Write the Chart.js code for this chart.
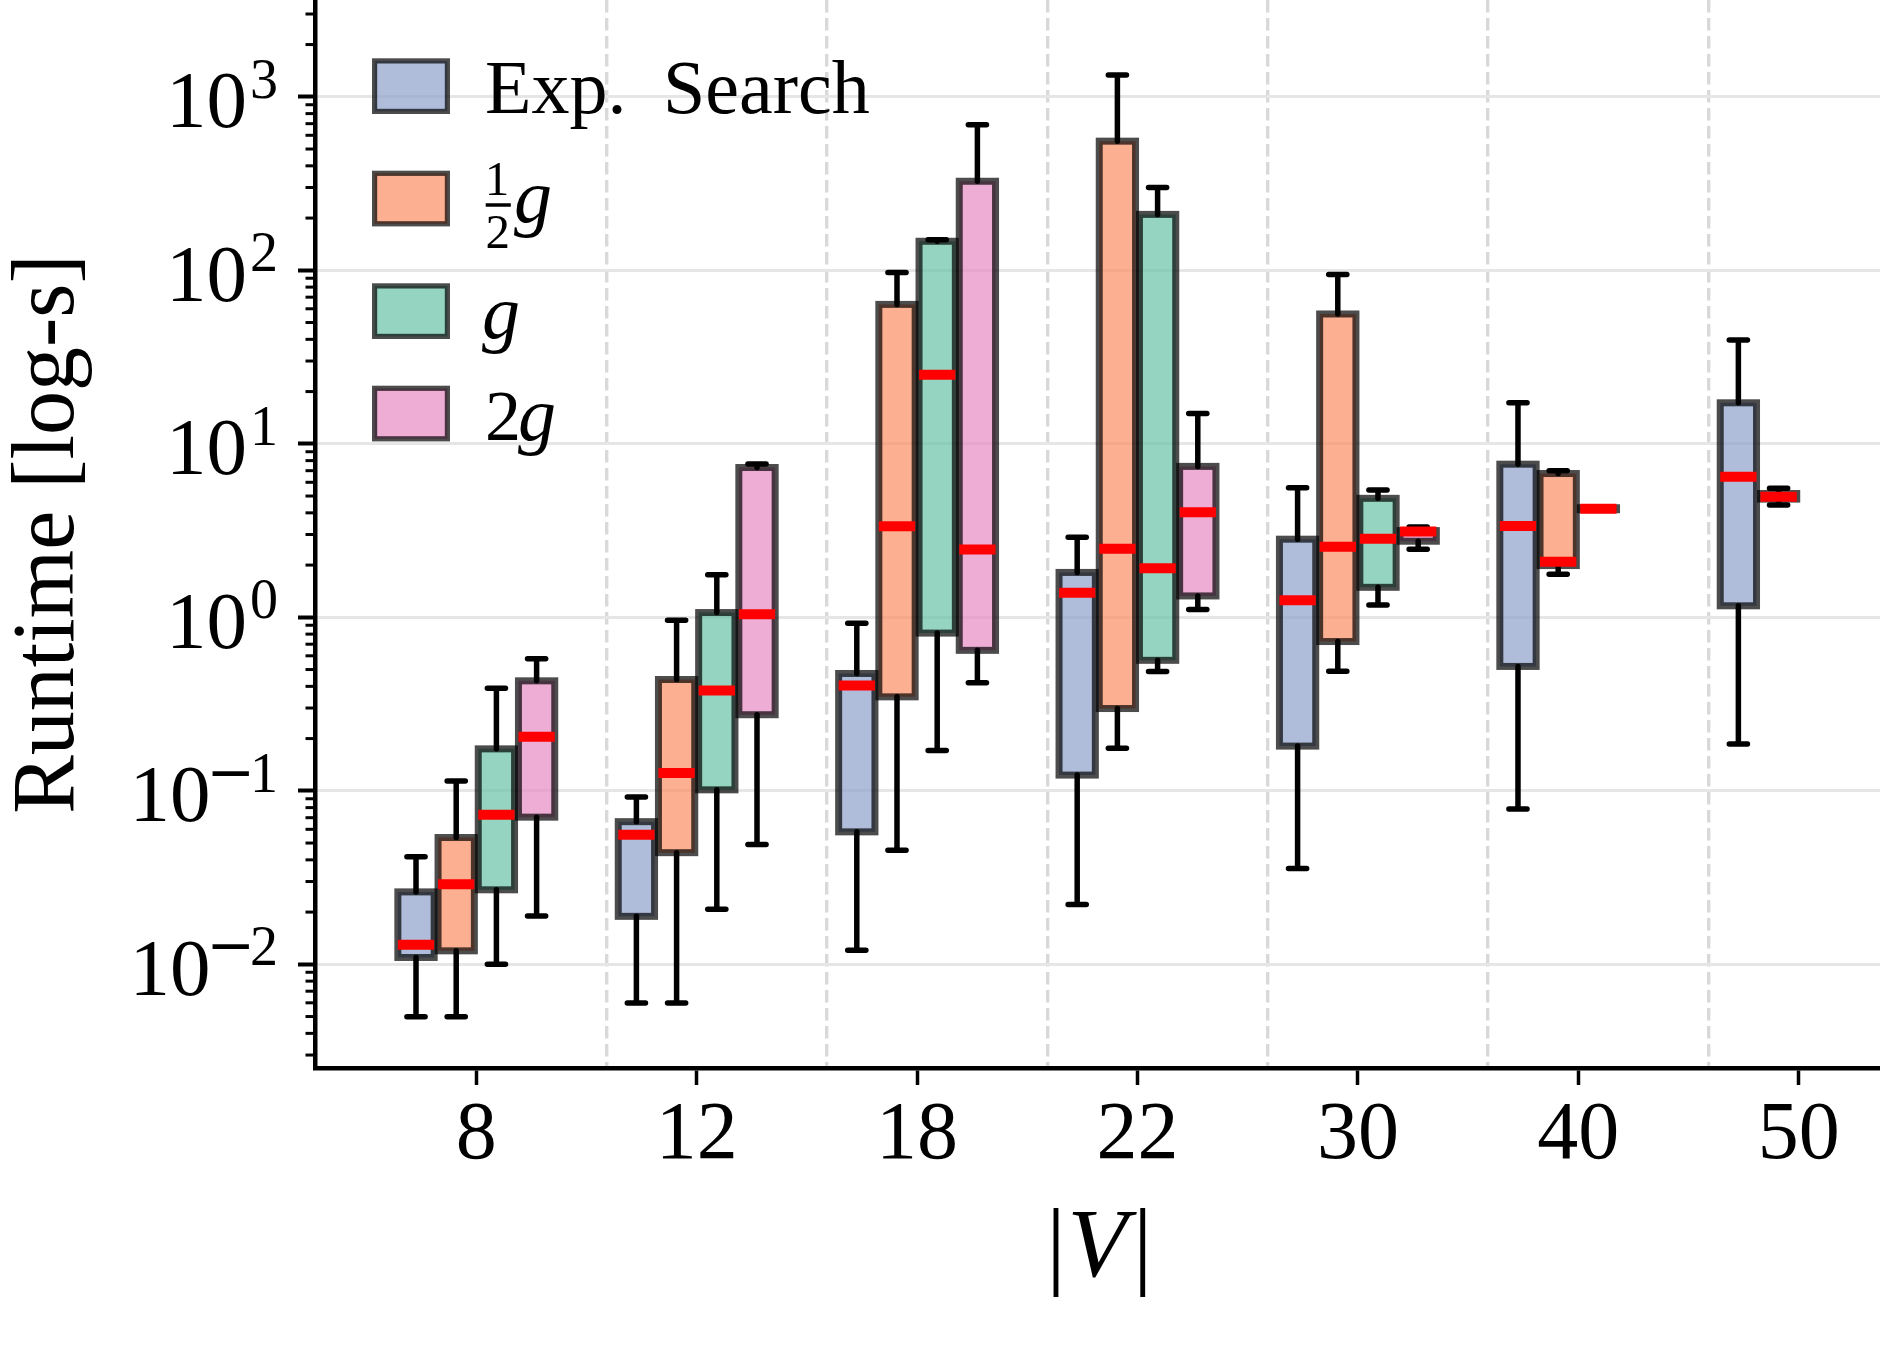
<!DOCTYPE html>
<html><head><meta charset="utf-8">
<script src="https://cdn.jsdelivr.net/npm/chart.js@4.4.1/dist/chart.umd.min.js"></script>
<style>html,body{margin:0;padding:0;background:#fff;}#wrap{width:1880px;height:1361px;}</style>
</head><body><div id="wrap"><canvas id="c" width="1880" height="1361" style="width:1880px;height:1361px"></canvas></div>
<script>
// ---------------- data ----------------
const sizes = ['8', '12', '18', '22', '30', '40', '50'];
const seriesNames = ['Exp. Search', '1/2 g', 'g', '2g'];
const yExponents = [-2, -1, 0, 1, 2, 3];

// Exp. Search
const expLow  = [0.00499, 0.00598, 0.01206, 0.0221, 0.0357, 0.0785, 0.186];
const expQ1   = [0.01095, 0.0189, 0.058, 0.1232, 0.181, 0.521, 1.165];
const expMed  = [0.01297, 0.0558, 0.4045, 1.386, 1.255, 3.36, 6.46];
const expQ3   = [0.02615, 0.0664, 0.4745, 1.814, 2.82, 7.63, 17.23];
const expHigh = [0.0417, 0.092, 0.923, 2.895, 5.59, 17.26, 39.6];
// 1/2 g
const halfLow  = [0.00499, 0.00598, 0.0454, 0.1762, 0.489, 1.77, 4.44];
const halfQ1   = [0.01196, 0.044, 0.348, 0.298, 0.725, 1.987, 4.80];
const halfMed  = [0.0289, 0.1266, 3.35, 2.48, 2.55, 2.09, 4.96];
const halfQ3   = [0.0538, 0.438, 63.6, 555, 56.0, 6.74, 5.17];
const halfHigh = [0.1139, 0.962, 97, 1334, 94.6, 7.0, 5.54];
// g
const gLow  = [0.0100, 0.0208, 0.171, 0.487, 1.176, 4.15, null];
const gQ1   = [0.02688, 0.1013, 0.811, 0.565, 1.489, 4.17, null];
const gMed  = [0.0728, 0.3786, 25.0, 1.916, 2.84, 4.22, null];
const gQ3   = [0.1745, 1.065, 147, 210, 4.85, 4.28, null];
const gHigh = [0.390, 1.76, 150, 300, 5.42, 4.32, null];
// 2g
const twoLow  = [0.01898, 0.0491, 0.42, 1.11, 2.47, null, null];
const twoQ1   = [0.0705, 0.2745, 0.645, 1.328, 2.745, null, null];
const twoMed  = [0.205, 1.041, 2.46, 4.03, 3.12, null, null];
const twoQ3   = [0.4304, 7.30, 326, 7.41, 3.16, null, null];
const twoHigh = [0.577, 7.65, 689, 14.95, 3.31, null, null];

// ---------------- styling ----------------
const FONT = '"Liberation Serif", "Times New Roman", serif';
const fills = ['rgba(141,160,203,0.7)', 'rgba(252,141,98,0.7)', 'rgba(102,194,165,0.7)', 'rgba(231,138,195,0.7)'];
const stats = [
  {lo: expLow, q1: expQ1, med: expMed, q3: expQ3, hi: expHigh},
  {lo: halfLow, q1: halfQ1, med: halfMed, q3: halfQ3, hi: halfHigh},
  {lo: gLow, q1: gQ1, med: gMed, q3: gQ3, hi: gHigh},
  {lo: twoLow, q1: twoQ1, med: twoMed, q3: twoQ3, hi: twoHigh}
];
const X_MIN = -0.7319, X_MAX = 6.369;
const Y_MIN = 0.002526, Y_MAX = 3613;
const SEP_OFFSET = 0.591;

const datasets = stats.map((s, d) => ({
  label: seriesNames[d],
  data: sizes.map((_, i) => s.q1[i] == null ? null : {x: i, y: [s.q1[i], s.q3[i]]}).filter(v => v !== null),
  backgroundColor: fills[d],
  borderWidth: 0,
  inflateAmount: 0,
  categoryPercentage: 0.7296,
  barPercentage: 0.903,
  grouped: true
}));

// box decorations: edges, whiskers, caps, medians
const boxPlugin = {
  id: 'boxDecor',
  afterDatasetsDraw(chart) {
    const ctx = chart.ctx, ys = chart.scales.y;
    const items = [];
    chart.data.datasets.forEach((ds, d) => {
      const meta = chart.getDatasetMeta(d);
      meta.data.forEach((el, j) => {
        const i = ds.data[j].x, s = stats[d];
        items.push({x: el.x, w: el.width,
          pQ1: ys.getPixelForValue(s.q1[i]), pQ3: ys.getPixelForValue(s.q3[i]),
          pLo: ys.getPixelForValue(s.lo[i]), pHi: ys.getPixelForValue(s.hi[i]),
          pMed: ys.getPixelForValue(s.med[i])});
      });
    });
    ctx.save();
    ctx.lineJoin = 'miter';
    ctx.lineWidth = 7;
    ctx.strokeStyle = 'rgba(0,0,0,0.7)';
    items.forEach(b => ctx.strokeRect(b.x - b.w / 2, b.pQ3, b.w, b.pQ1 - b.pQ3));
    ctx.strokeStyle = '#000';
    ctx.lineWidth = 5.5;
    ctx.lineCap = 'round';
    items.forEach(b => {
      const c = b.w / 4;
      ctx.beginPath();
      ctx.moveTo(b.x, b.pQ3); ctx.lineTo(b.x, b.pHi);
      ctx.moveTo(b.x, b.pQ1); ctx.lineTo(b.x, b.pLo);
      ctx.moveTo(b.x - c, b.pHi); ctx.lineTo(b.x + c, b.pHi);
      ctx.moveTo(b.x - c, b.pLo); ctx.lineTo(b.x + c, b.pLo);
      ctx.stroke();
    });
    ctx.strokeStyle = '#ff0000';
    ctx.lineWidth = 10;
    ctx.lineCap = 'butt';
    items.forEach(b => {
      ctx.beginPath();
      ctx.moveTo(b.x - b.w / 2, b.pMed); ctx.lineTo(b.x + b.w / 2, b.pMed);
      ctx.stroke();
    });
    ctx.restore();
  }
};

// y tick labels (10^k), minor ticks, legend
const decorPlugin = {
  id: 'decor',
  afterDraw(chart) {
    const ctx = chart.ctx, ys = chart.scales.y, left = chart.chartArea.left;
    ctx.save();
    ctx.fillStyle = '#000';
    ctx.textBaseline = 'alphabetic';
    ctx.textAlign = 'right';
    yExponents.forEach(e => {
      const py = ys.getPixelForValue(Math.pow(10, e));
      const xr = left - 37;
      ctx.font = '56px ' + FONT;
      const digit = String(Math.abs(e));
      ctx.fillText(digit, xr, py + 1);
      let start = xr - ctx.measureText(digit).width;
      if (e < 0) {
        ctx.font = '58px "DejaVu Sans"';
        const mEnd = start + 5;
        ctx.fillText('\u2212', mEnd, py + 1);
        start = mEnd - ctx.measureText('\u2212').width + 4;
      } else {
        start -= 3;
      }
      ctx.font = '81px ' + FONT;
      ctx.fillText('10', start, py + 30.5);
    });
    // minor ticks
    ctx.strokeStyle = '#000';
    ctx.lineWidth = 3;
    for (let k = -3; k <= 3; k++) {
      for (let m = 2; m <= 9; m++) {
        const v = m * Math.pow(10, k);
        if (v < ys.min || v > ys.max) continue;
        const py = ys.getPixelForValue(v);
        ctx.beginPath(); ctx.moveTo(left - 9.5, py); ctx.lineTo(left, py); ctx.stroke();
      }
    }
    // legend
    const tops = [58.3, 170.7, 283.3, 385.7];
    const px = 372, pw = 78, ph = 55.7, plw = 5.2;
    tops.forEach((t, d) => {
      ctx.fillStyle = fills[d];
      ctx.fillRect(px + plw / 2, t + plw / 2, pw - plw, ph - plw);
      ctx.strokeStyle = 'rgba(0,0,0,0.7)';
      ctx.lineWidth = plw;
      ctx.strokeRect(px + plw / 2, t + plw / 2, pw - plw, ph - plw);
    });
    ctx.fillStyle = '#000';
    ctx.textAlign = 'left';
    ctx.font = '76px ' + FONT;
    ctx.fillText('Exp.', 485, 112.7);
    ctx.fillText('Search', 663, 112.7);
    ctx.textAlign = 'center';
    ctx.font = '49px ' + FONT;
    ctx.fillText('1', 497, 195);
    ctx.fillText('2', 497.7, 248.3);
    ctx.strokeStyle = '#000'; ctx.lineWidth = 3.5;
    ctx.beginPath(); ctx.moveTo(485.7, 205); ctx.lineTo(510.8, 205); ctx.stroke();
    ctx.textAlign = 'left';
    ctx.font = 'italic 76px ' + FONT;
    ctx.fillText('g', 514, 222);
    ctx.fillText('g', 482, 338);
    ctx.font = '72px ' + FONT;
    ctx.fillText('2', 485, 440);
    ctx.font = 'italic 76px ' + FONT;
    ctx.fillText('g', 518, 440);
    ctx.restore();
  }
};

Chart.defaults.font.family = FONT;
Chart.defaults.color = '#000';

new Chart(document.getElementById('c'), {
  type: 'bar',
  data: {datasets},
  options: {
    responsive: false,
    devicePixelRatio: 1,
    animation: false,
    events: [],
    layout: {padding: 0},
    plugins: {legend: {display: false}, tooltip: {enabled: false}, title: {display: false}},
    scales: {
      x: {
        type: 'linear', position: 'bottom', min: X_MIN, max: X_MAX, offset: false,
        afterBuildTicks: s => { s.ticks = sizes.map((_, i) => ({value: i})); },
        afterFit: s => { s.height = 293; },
        grid: {display: true, drawOnChartArea: false, drawTicks: true, tickLength: 17, tickWidth: 3.5, tickColor: '#000', offset: false},
        border: {display: true, color: '#000', width: 4.5},
        ticks: {autoSkip: false, maxRotation: 0, minRotation: 0, padding: 2, color: '#000',
                font: {family: FONT, size: 82, lineHeight: 1.2},
                callback: v => (sizes[v] !== undefined ? sizes[v] : '')},
        title: {display: true, text: '|V|', color: '#000',
                font: {family: FONT, size: 98, style: 'italic', lineHeight: 1},
                padding: {top: 0, bottom: 62}}
      },
      x2: {
        type: 'linear', position: 'bottom', min: X_MIN, max: X_MAX, offset: false,
        afterBuildTicks: s => { s.ticks = sizes.slice(0, -1).map((_, i) => ({value: i + SEP_OFFSET})); },
        afterFit: s => { s.height = 0; },
        grid: {display: true, drawOnChartArea: true, drawTicks: false, color: '#d9d9d9', lineWidth: 3.4, offset: false},
        border: {display: false, dash: [12.6, 5.4]},
        ticks: {display: false}
      },
      y: {
        type: 'logarithmic', min: Y_MIN, max: Y_MAX,
        afterBuildTicks: s => { s.ticks = yExponents.map(e => ({value: Math.pow(10, e), major: true})); },
        afterFit: s => { s.width = 315; },
        grid: {display: true, drawOnChartArea: true, drawTicks: true, color: '#e6e6e6', lineWidth: 3,
               tickLength: 17, tickWidth: 4, tickColor: '#000'},
        border: {display: true, color: '#000', width: 4.5},
        ticks: {display: false},
        title: {display: true, text: 'Runtime [log-s]', color: '#000',
                font: {family: FONT, size: 88, lineHeight: 1},
                padding: {top: 6, bottom: 0}}
      }
    }
  },
  plugins: [boxPlugin, decorPlugin]
});
</script>
</body></html>
